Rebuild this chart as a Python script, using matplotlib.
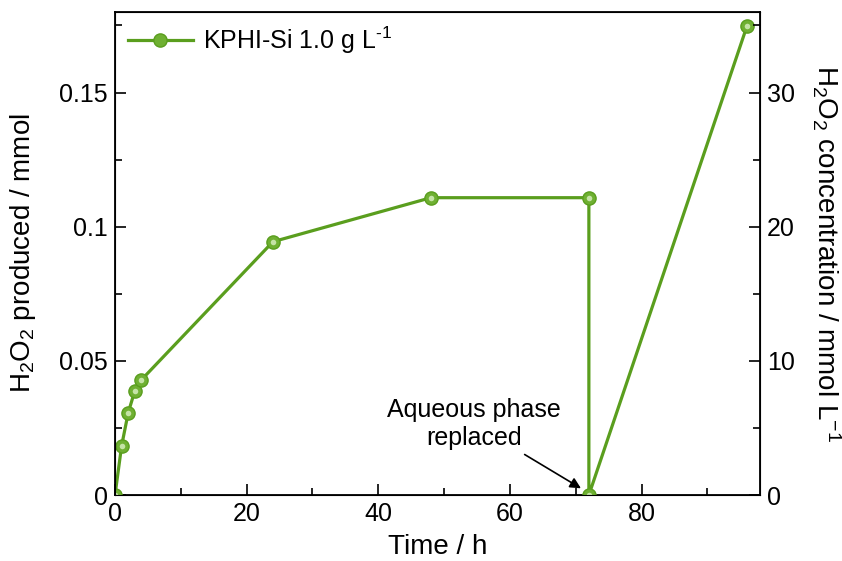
import matplotlib
matplotlib.use("Agg")
import matplotlib.pyplot as plt
from matplotlib.ticker import MultipleLocator, FuncFormatter

plt.rcParams['font.family'] = ['Liberation Sans', 'DejaVu Sans']
plt.rcParams['mathtext.fontset'] = 'custom'
plt.rcParams['mathtext.rm'] = 'Liberation Sans'
plt.rcParams['mathtext.it'] = 'Liberation Sans'
plt.rcParams['mathtext.default'] = 'regular'

# data
time_h = [0, 1, 2, 3, 4, 24, 48, 72, 72, 96]
h2o2_mmol = [0.0, 0.0183, 0.0306, 0.0388, 0.0429, 0.0944, 0.1108, 0.1108, 0.0, 0.1746]
volume_factor = 200  # mmol -> mmol/L on right axis

green = '#5a9e1e'

fig = plt.figure(figsize=(8.42, 5.61), dpi=100)
ax = fig.add_axes([0.1366, 0.1176, 0.766, 0.861])

ax.plot(time_h, h2o2_mmol, color=green, lw=2.3, marker='o', ms=9.5,
        mfc='#6fb032', mec='#5a9e1e', mew=1.0, label=r'KPHI-Si 1.0 g L$^{\text{-1}}$', zorder=3)
# small highlight on the markers
ax.plot(time_h, h2o2_mmol, ls='none', marker='o', ms=4, mfc='#c5e3a6', mec='none', zorder=4)

ax.set_xlim(0, 98)
ax.set_ylim(0, 0.18)
ax.xaxis.set_major_locator(MultipleLocator(20))
ax.xaxis.set_minor_locator(MultipleLocator(10))
ax.yaxis.set_major_locator(MultipleLocator(0.05))
ax.yaxis.set_minor_locator(MultipleLocator(0.025))
ax.yaxis.set_major_formatter(FuncFormatter(lambda v, p: '0' if v == 0 else '%g' % round(v, 3)))

ax.tick_params(which='both', direction='in', labelsize=18, width=1.2, top=False, right=False)
ax.tick_params(which='major', length=8, pad=5)
ax.tick_params(which='minor', length=5)
for s in ax.spines.values():
    s.set_linewidth(1.3)

ax.set_xlabel('Time / h', fontsize=20, labelpad=6)
ax.set_ylabel(r'H$_2$O$_2$ produced / mmol', fontsize=20, labelpad=15)

ax2 = ax.twinx()
ax2.set_ylim(0, 0.18 * volume_factor)
ax2.yaxis.set_major_locator(MultipleLocator(10))
ax2.yaxis.set_minor_locator(MultipleLocator(5))
ax2.tick_params(which='both', direction='in', labelsize=18, width=1.2)
ax2.tick_params(which='major', length=8, pad=5)
ax2.tick_params(which='minor', length=5)
ax2.set_ylabel(r'H$_2$O$_2$ concentration / mmol L$^{-1}$', fontsize=20,
               rotation=270, labelpad=34)

leg = ax.legend(loc='upper left', frameon=False, fontsize=18, handlelength=2.6,
                borderaxespad=0.1, handletextpad=0.4)

ax.annotate('Aqueous phase\nreplaced', xy=(70.8, 0.0025), xytext=(54.5, 0.0265),
            ha='center', va='center', fontsize=18, linespacing=1.25,
            arrowprops=dict(arrowstyle='-|>', color='black', lw=1.2,
                            mutation_scale=16, shrinkA=2, shrinkB=0))

fig.savefig('out.png', dpi=100)
